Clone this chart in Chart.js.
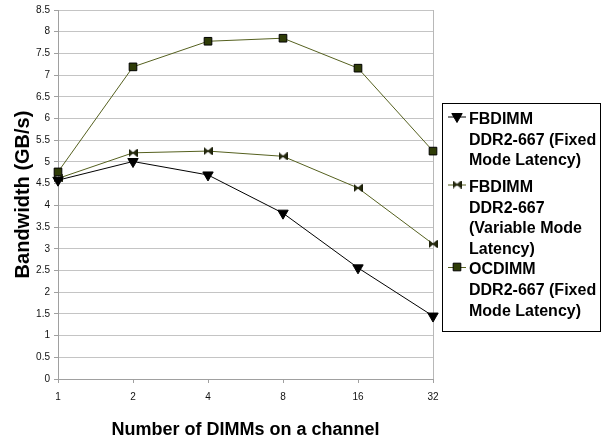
<!DOCTYPE html>
<html><head><meta charset="utf-8">
<script src="https://cdn.jsdelivr.net/npm/chart.js@4/dist/chart.umd.min.js"></script>
<style>html,body{margin:0;padding:0;background:#fff}#wrap{width:605px;height:442px;position:relative}canvas{display:block}</style>
</head><body><div id="wrap"><canvas id="c" width="605" height="442" style="width:605px;height:442px"></canvas></div>
<script>
const categories = ['1', '2', '4', '8', '16', '32'];
const fbdimmFixed = [4.58, 5.01, 4.70, 3.82, 2.56, 1.45];
const fbdimmVariable = [4.62, 5.21, 5.25, 5.13, 4.40, 3.11];
const ocdimmFixed = [4.77, 7.19, 7.78, 7.85, 7.16, 5.25];
const legendFixed = ['FBDIMM', 'DDR2-667 (Fixed', 'Mode Latency)'];
const legendVariable = ['FBDIMM', 'DDR2-667', '(Variable Mode', 'Latency)'];
const legendOcdimm = ['OCDIMM', 'DDR2-667 (Fixed', 'Mode Latency)'];
const yMin = 0, yMax = 8.5, yStep = 0.5;
const xTitle = 'Number of DIMMs on a channel';
const yTitle = 'Bandwidth (GB/s)';

const FONT = '"Liberation Sans", Arial, sans-serif';
const OLIVE = '#55601f';

function makeBowtie() {
  const c = document.createElement('canvas');
  c.width = 9; c.height = 8;
  const g = c.getContext('2d');
  g.fillStyle = '#262b0c';
  g.strokeStyle = '#1a1d08';
  g.lineWidth = 1;
  g.beginPath();
  g.moveTo(0.5, 0.5); g.lineTo(4.5, 4); g.lineTo(0.5, 7.5); g.closePath();
  g.moveTo(8.5, 0.5); g.lineTo(4.5, 4); g.lineTo(8.5, 7.5); g.closePath();
  g.fill(); g.stroke();
  return c;
}
const bowtie = makeBowtie();

const series = [
  {label: legendFixed, data: fbdimmFixed, borderColor: '#000', pointStyle: 'triangle', rotation: 180, pointRadius: 6, backgroundColor: '#000', pointBorderColor: '#000'},
  {label: legendVariable, data: fbdimmVariable, borderColor: OLIVE, pointStyle: bowtie, rotation: 0, pointRadius: 5, backgroundColor: '#262b0c', pointBorderColor: '#1a1d08'},
  {label: legendOcdimm, data: ocdimmFixed, borderColor: OLIVE, pointStyle: 'rect', rotation: 0, pointRadius: 5.4, backgroundColor: '#2f3c07', pointBorderColor: '#000'}
];

const legendStarts = [119.5, 187.5, 270];

const legendPlugin = {
  id: 'boxLegend',
  afterDraw(chart) {
    const ctx = chart.ctx;
    ctx.save();
    ctx.strokeStyle = '#000';
    ctx.lineWidth = 1;
    ctx.strokeRect(442.5, 103.5, 158, 228);
    ctx.font = 'bold 16px ' + FONT;
    ctx.fillStyle = '#000';
    ctx.textBaseline = 'middle';
    ctx.textAlign = 'left';
    chart.data.datasets.forEach((ds, i) => {
      const y0 = legendStarts[i];
      const ly = y0 - 3;
      ctx.strokeStyle = ds.borderColor;
      ctx.lineWidth = 1;
      ctx.beginPath();
      ctx.moveTo(448, ly + 0.5); ctx.lineTo(466, ly + 0.5);
      ctx.stroke();
      ctx.fillStyle = ds.backgroundColor;
      ctx.strokeStyle = ds.pointBorderColor;
      Chart.helpers.drawPoint(ctx, {pointStyle: ds.pointStyle, rotation: ds.rotation, radius: ds.pointRadius, borderWidth: 1}, 457, ly);
      ctx.fillStyle = '#000';
      ds.label.forEach((t, j) => ctx.fillText(t, 469, y0 + j * 20.7));
    });
    ctx.restore();
  }
};

const borderPlugin = {
  id: 'rightBorder',
  beforeDatasetsDraw(chart) {
    const a = chart.chartArea, ctx = chart.ctx;
    ctx.save();
    ctx.strokeStyle = '#b8b8b8';
    ctx.lineWidth = 1;
    ctx.beginPath();
    ctx.moveTo(Math.round(a.right) + 0.5, a.top);
    ctx.lineTo(Math.round(a.right) + 0.5, a.bottom);
    ctx.stroke();
    ctx.restore();
  }
};

new Chart(document.getElementById('c'), {
  type: 'line',
  data: {
    labels: categories,
    datasets: series.map(s => ({
      label: s.label,
      data: s.data,
      borderColor: s.borderColor,
      backgroundColor: s.backgroundColor,
      borderWidth: 1,
      tension: 0,
      fill: false,
      pointStyle: s.pointStyle,
      rotation: s.rotation,
      pointRadius: s.pointRadius,
      pointBackgroundColor: s.backgroundColor,
      pointBorderColor: s.pointBorderColor,
      pointBorderWidth: 1,
      pointHoverRadius: s.pointRadius
    }))
  },
  options: {
    responsive: false,
    maintainAspectRatio: false,
    animation: false,
    devicePixelRatio: 1,
    layout: {padding: {top: 8, right: 172, left: 0, bottom: 0}},
    plugins: {legend: {display: false}, tooltip: {enabled: false}},
    scales: {
      x: {
        type: 'category',
        offset: false,
        grid: {drawOnChartArea: false, drawTicks: true, tickLength: 4, tickColor: '#a0a0a0'},
        border: {color: '#a0a0a0'},
        ticks: {color: '#111', font: {family: FONT, size: 10}, padding: 8, maxRotation: 0, autoSkip: false},
        title: {display: true, text: xTitle, color: '#000', font: {family: FONT, size: 18, weight: 'bold'}, padding: {top: 4, bottom: 1}},
        afterFit(s) { s.height = 63; }
      },
      y: {
        min: yMin, max: yMax,
        grid: {color: '#c4c4c4', tickLength: 4, tickColor: '#a0a0a0'},
        border: {color: '#a0a0a0'},
        ticks: {stepSize: yStep, color: '#111', font: {family: FONT, size: 10}, padding: 4, autoSkip: false,
                callback: v => String(Math.round(v * 10) / 10)},
        title: {display: true, text: yTitle, color: '#000', font: {family: FONT, size: 20, weight: 'bold'}, padding: {top: 11, bottom: 4}},
        afterFit(s) { s.width = 58; }
      }
    }
  },
  plugins: [borderPlugin, legendPlugin]
});
</script></body></html>
